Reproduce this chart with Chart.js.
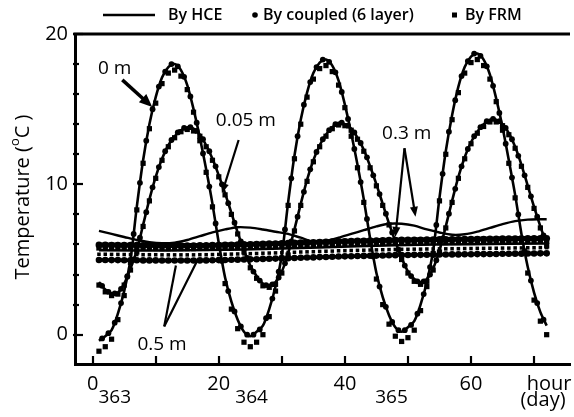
<!DOCTYPE html>
<html><head><meta charset="utf-8">
<script src="https://cdn.jsdelivr.net/npm/chart.js@4.4.0/dist/chart.umd.min.js"></script>
<style>html,body{margin:0;padding:0;background:#fff;}#wrap{width:574px;height:417px;}</style>
</head><body><div id="wrap"><canvas id="c" width="574" height="417" style="width:574px;height:417px"></canvas></div>
<script>
// ---------- data ----------
const hours = [1,2,3,4,5,6,7,8,9,10,11,12,13,14,15,16,17,18,19,20,21,22,23,24,25,26,27,28,29,30,31,32,33,34,35,36,37,38,39,40,41,42,43,44,45,46,47,48,49,50,51,52,53,54,55,56,57,58,59,60,61,62,63,64,65,66,67,68,69,70,71,72];
const halfHours = [1.5,2.5,3.5,4.5,5.5,6.5,7.5,8.5,9.5,10.5,11.5,12.5,13.5,14.5,15.5,16.5,17.5,18.5,19.5,20.5,21.5,22.5,23.5,24.5,25.5,26.5,27.5,28.5,29.5,30.5,31.5,32.5,33.5,34.5,35.5,36.5,37.5,38.5,39.5,40.5,41.5,42.5,43.5,44.5,45.5,46.5,47.5,48.5,49.5,50.5,51.5,52.5,53.5,54.5,55.5,56.5,57.5,58.5,59.5,60.5,61.5,62.5,63.5,64.5,65.5,66.5,67.5,68.5,69.5,70.5,71.5];
const waveHours = [1,3,5,7,9,11,13,15,17,19,21,23,25,27,29,31,33,35,37,39,41,43,45,47,49,51,53,55,57,59,61,63,65,67,69,71,72];
const deepHours = [1,12,24,36,48,60,72];

// 0 m
const surfHCE = [-0.4,-0.1,0.3,1.4,2.9,5.0,8.5,11.6,14.0,15.8,17.1,17.8,18.0,17.6,16.6,15.0,13.1,11.0,8.7,6.1,3.8,2.2,1.0,0.2,-0.1,0.2,0.6,1.7,3.2,5.3,8.8,11.9,14.3,16.1,17.4,18.1,18.3,17.9,16.9,15.3,13.4,11.3,9.0,6.4,4.1,2.5,1.3,0.5,0.2,0.5,0.9,2.0,3.5,5.6,9.1,12.2,14.6,16.5,17.8,18.5,18.7,18.3,17.3,15.7,13.8,11.6,9.3,6.7,4.5,2.8,1.5,0.6];
const surfCoupled = [-0.25,0.1,0.8,2.1,3.9,6.7,10.1,12.9,15.0,16.5,17.5,18.0,17.85,17.15,15.85,14.1,12.05,9.85,7.4,4.9,2.9,1.55,0.55,0.0,0.0,0.35,1.1,2.4,4.2,7.0,10.4,13.2,15.3,16.8,17.8,18.3,18.15,17.45,16.15,14.35,12.35,10.15,7.7,5.2,3.2,1.85,0.85,0.3,0.3,0.65,1.4,2.7,4.5,7.3,10.7,13.5,15.6,17.2,18.2,18.7,18.55,17.85,16.55,14.75,12.7,10.45,8.0,5.55,3.6,2.1,1.0];
const surfFRM = [-1.1,-0.8,-0.3,1.0,2.6,4.8,8.3,11.4,13.7,15.4,16.7,17.4,17.6,17.2,16.3,14.8,12.9,10.8,8.5,5.8,3.4,1.7,0.4,-0.5,-0.8,-0.5,0.0,1.2,2.9,5.1,8.6,11.7,14.0,15.8,17.0,17.7,17.9,17.5,16.6,15.1,13.2,11.1,8.8,6.1,3.7,2.0,0.7,-0.1,-0.45,-0.2,0.3,1.6,3.2,5.4,8.9,12.0,14.3,16.1,17.4,18.1,18.3,17.9,17.0,15.5,13.6,11.4,9.1,6.4,4.1,2.3,0.9,0.0];

// 0.05 m
const d05HCE = [3.5,3.0,2.75,2.8,3.4,4.4,5.6,7.3,9.0,10.5,11.7,12.6,13.2,13.6,13.8,13.7,13.3,12.6,11.7,10.6,9.4,8.1,6.8,5.6,4.6,3.9,3.4,3.3,3.5,4.2,5.4,7.0,8.7,10.3,11.6,12.6,13.3,13.8,14.1,14.0,13.7,13.1,12.3,11.2,10.0,8.7,7.4,6.2,5.1,4.2,3.7,3.5,3.7,4.4,5.6,7.2,8.9,10.5,11.8,12.8,13.5,14.0,14.3,14.3,14.0,13.4,12.5,11.3,9.9,8.5,7.2,6.0];
const d05Coupled = [3.25,2.85,2.75,3.05,3.85,5.0,6.45,8.15,9.8,11.15,12.2,12.95,13.45,13.75,13.8,13.55,13.0,12.2,11.2,10.0,8.75,7.45,6.2,5.1,4.2,3.6,3.3,3.35,3.8,4.75,6.2,7.85,9.5,11.0,12.15,13.0,13.6,14.0,14.1,13.9,13.45,12.75,11.8,10.6,9.35,8.05,6.8,5.65,4.6,3.9,3.55,3.55,4.0,4.95,6.4,8.05,9.7,11.2,12.35,13.2,13.8,14.2,14.35,14.2,13.75,13.0,11.9,10.6,9.2,7.85,6.6];
const d05FRM = [3.3,2.85,2.6,2.7,3.3,4.3,5.5,7.2,8.9,10.4,11.6,12.5,13.1,13.5,13.65,13.55,13.2,12.5,11.6,10.5,9.3,8.0,6.7,5.5,4.45,3.75,3.25,3.15,3.35,4.1,5.3,6.9,8.6,10.2,11.5,12.5,13.2,13.7,13.95,13.9,13.6,13.0,12.2,11.1,9.9,8.6,7.3,6.1,5.0,4.1,3.55,3.35,3.55,4.3,5.5,7.1,8.8,10.4,11.7,12.7,13.4,13.85,14.15,14.15,13.9,13.3,12.4,11.2,9.8,8.4,7.1,5.9];

// 0.3 m
const d30HCE = [6.9,6.7,6.5,6.3,6.15,6.08,6.12,6.3,6.55,6.8,7.0,7.15,7.12,7.0,6.85,6.7,6.45,6.2,6.25,6.45,6.7,6.95,7.2,7.38,7.38,7.25,7.0,6.8,6.65,6.68,6.85,7.1,7.35,7.55,7.65,7.68,7.68];
const d30Coupled = [5.97,5.97,5.96,5.96,5.95,5.95,5.95,5.94,5.94,5.94,5.93,5.93,5.93,5.93,5.93,5.93,5.94,5.94,5.95,5.96,5.97,5.98,5.99,6.00,6.01,6.02,6.04,6.05,6.06,6.08,6.09,6.10,6.12,6.13,6.14,6.16,6.17,6.18,6.20,6.21,6.22,6.23,6.24,6.25,6.26,6.27,6.28,6.29,6.30,6.30,6.31,6.31,6.32,6.32,6.33,6.33,6.34,6.34,6.35,6.35,6.36,6.36,6.37,6.37,6.38,6.38,6.39,6.39,6.40,6.40,6.41,6.41];
const d30FRM = [5.77,5.77,5.76,5.76,5.75,5.75,5.75,5.74,5.74,5.74,5.73,5.73,5.73,5.73,5.73,5.73,5.74,5.74,5.75,5.76,5.77,5.78,5.79,5.80,5.81,5.82,5.84,5.85,5.86,5.88,5.89,5.90,5.92,5.93,5.94,5.96,5.97,5.98,6.00,6.01,6.02,6.03,6.04,6.05,6.06,6.07,6.08,6.09,6.10,6.10,6.11,6.11,6.12,6.12,6.13,6.13,6.14,6.14,6.15,6.15,6.16,6.16,6.17,6.17,6.18,6.18,6.19,6.19,6.20,6.20,6.21,6.21];

// 0.5 m
const d50HCE = [5.62,5.60,5.67,5.80,5.95,6.02,6.07];
const d50Coupled = [4.97,4.97,4.96,4.96,4.95,4.95,4.95,4.94,4.94,4.94,4.93,4.93,4.93,4.93,4.93,4.93,4.94,4.94,4.95,4.96,4.97,4.98,4.99,5.00,5.01,5.02,5.04,5.05,5.06,5.08,5.09,5.10,5.12,5.13,5.14,5.16,5.17,5.18,5.20,5.21,5.22,5.23,5.24,5.25,5.26,5.27,5.28,5.29,5.30,5.30,5.31,5.31,5.32,5.32,5.33,5.33,5.34,5.34,5.35,5.35,5.36,5.36,5.37,5.37,5.38,5.38,5.39,5.39,5.40,5.40,5.41,5.41];
const d50FRM = [5.35,5.35,5.34,5.34,5.33,5.33,5.33,5.32,5.32,5.32,5.31,5.31,5.31,5.31,5.31,5.31,5.32,5.32,5.33,5.34,5.35,5.36,5.37,5.38,5.39,5.40,5.42,5.43,5.44,5.46,5.47,5.48,5.50,5.51,5.52,5.54,5.55,5.56,5.58,5.59,5.60,5.61,5.62,5.63,5.64,5.65,5.66,5.67,5.68,5.68,5.69,5.69,5.70,5.70,5.71,5.71,5.72,5.72,5.73,5.73,5.74,5.74,5.75,5.75,5.76,5.76,5.77,5.77,5.78,5.78,5.79,5.79];

// axes / labels
const xTickMarks = [0,10,20,30,40,50,60,70];
const xTickLabels = [0,20,40,60];
const yTickMarks = [0,2,4,6,8,10,12,14,16,18,20];
const yTickLabels = [0,10,20];
const dayLabels = ['363','364','365'];
const dayPos = [3.5,25.2,47.4];
const legendItems = ['By HCE','By coupled (6 layer)','By FRM'];
const depthLabels = ['0 m','0.05 m','0.3 m','0.5 m'];
const depthLabelPos = [[3.5,17.7],[24.3,14.25],[49.8,13.35],[11.0,-0.65]];
const arrows = [
  {from:[4.7,16.95], to:[9.45,15.15], w:3.5, head:true},
  {from:[23.15,12.95], to:[20.5,9.4], w:2.2, head:true},
  {from:[49.45,12.4], to:[51.2,7.85], w:2.2, head:true},
  {from:[49.45,12.4], to:[48.0,6.5], w:2.2, head:true},
  {from:[11.35,0.55], to:[13.2,4.6], w:2.2, head:false},
  {from:[11.35,0.55], to:[16.5,4.85], w:2.2, head:false}
];

// ---------- chart ----------
const F = "'Open Sans', 'DejaVu Sans', sans-serif";
const P = (xs, ys) => xs.map((x, i) => ({x: x, y: ys[i]}));
function lineDs(xs, ys, w) {
  return {data: P(xs, ys), borderColor:'#000', borderWidth: w, pointRadius: 0, tension: 0.3, fill: false, order: 3};
}
function dotDs(xs, ys, r, lw) {
  return {data: P(xs, ys), showLine: !!lw, borderColor:'#000', borderWidth: lw || 0, tension: 0.3,
    pointStyle:'circle', pointRadius: r, pointBackgroundColor:'#000', pointBorderColor:'#000', pointBorderWidth: 0, order: 1};
}
function sqDs(xs, ys, r) {
  return {data: P(xs, ys), showLine: false, pointStyle:'rect', pointRadius: r,
    pointBackgroundColor:'#000', pointBorderColor:'#000', pointBorderWidth: 0, order: 2};
}

const datasets = [
  lineDs(hours, surfHCE, 2.6),
  dotDs(halfHours, surfCoupled, 2.9),
  sqDs(hours, surfFRM, 3.7),
  lineDs(hours, d05HCE, 2.6),
  dotDs(halfHours, d05Coupled, 2.9),
  sqDs(hours, d05FRM, 3.7),
  lineDs(waveHours, d30HCE, 2.4),
  dotDs(hours, d30Coupled, 3.4, 5),
  sqDs(hours, d30FRM, 3.8),
  lineDs(deepHours, d50HCE, 2.5),
  dotDs(hours, d50Coupled, 3.3, 3.5),
  sqDs(hours, d50FRM, 2.5)
];

function arrowLine(ctx, x1, y1, x2, y2, w, head) {
  const ang = Math.atan2(y2 - y1, x2 - x1);
  const hl = w > 3 ? 13 : 10, hw = w > 3 ? 5.5 : 4;
  ctx.lineWidth = w;
  ctx.beginPath();
  ctx.moveTo(x1, y1);
  if (head) ctx.lineTo(x2 - Math.cos(ang) * hl * 0.8, y2 - Math.sin(ang) * hl * 0.8);
  else ctx.lineTo(x2, y2);
  ctx.stroke();
  if (head) {
    ctx.beginPath();
    ctx.moveTo(x2, y2);
    ctx.lineTo(x2 - Math.cos(ang) * hl - Math.sin(ang) * hw, y2 - Math.sin(ang) * hl + Math.cos(ang) * hw);
    ctx.lineTo(x2 - Math.cos(ang) * hl + Math.sin(ang) * hw, y2 - Math.sin(ang) * hl - Math.cos(ang) * hw);
    ctx.closePath();
    ctx.fill();
  }
}

const W = '500 ';
const deco = {
  id: 'deco',
  afterDraw(chart) {
    const ctx = chart.ctx, a = chart.chartArea, xs = chart.scales.x, ys = chart.scales.y;
    ctx.save();
    ctx.strokeStyle = '#000'; ctx.fillStyle = '#000'; ctx.lineCap = 'butt';
    // top frame line
    ctx.lineWidth = 3;
    ctx.beginPath(); ctx.moveTo(a.left - 1.5, a.top); ctx.lineTo(a.right, a.top); ctx.stroke();
    // inward ticks
    ctx.lineWidth = 2.2;
    xTickMarks.forEach(v => {
      const px = Math.round(xs.getPixelForValue(v));
      ctx.beginPath(); ctx.moveTo(px, a.bottom); ctx.lineTo(px, a.bottom - 8); ctx.stroke();
    });
    yTickMarks.forEach(v => {
      const py = Math.round(ys.getPixelForValue(v));
      const len = yTickLabels.includes(v) ? 8 : 4;
      ctx.beginPath(); ctx.moveTo(a.left - 2, py); ctx.lineTo(a.left + len, py); ctx.stroke();
    });
    // day labels
    ctx.textBaseline = 'middle'; ctx.textAlign = 'center';
    ctx.font = W + '19px ' + F;
    dayLabels.forEach((t, i) => ctx.fillText(t, xs.getPixelForValue(dayPos[i]), 398));
    ctx.font = W + '20px ' + F;
    ctx.fillText('hour', 549, 384);
    ctx.fillText('(day)', 543, 400);
    // y title
    ctx.save();
    ctx.translate(22, 197);
    ctx.rotate(-Math.PI / 2);
    ctx.textAlign = 'left'; ctx.textBaseline = 'alphabetic';
    const big = W + '20px ' + F, small = W + '13px ' + F;
    ctx.font = big; const w1 = ctx.measureText('Temperature (').width;
    ctx.font = small; const w2 = ctx.measureText('o').width;
    ctx.font = big; const w3 = ctx.measureText('C )').width;
    let sx = -(w1 + w2 + w3) / 2;
    ctx.font = big; ctx.fillText('Temperature (', sx, 7); sx += w1;
    ctx.font = small; ctx.fillText('o', sx, -3); sx += w2;
    ctx.font = big; ctx.fillText('C )', sx, 7);
    ctx.restore();
    // legend
    ctx.lineWidth = 2.5;
    ctx.beginPath(); ctx.moveTo(103, 15); ctx.lineTo(155, 15); ctx.stroke();
    ctx.beginPath(); ctx.arc(255, 15, 2.8, 0, Math.PI * 2); ctx.fill();
    ctx.fillRect(452, 12.5, 5, 5);
    ctx.font = '600 16px ' + F; ctx.textAlign = 'left'; ctx.textBaseline = 'middle';
    ctx.fillText(legendItems[0], 168, 15);
    ctx.fillText(legendItems[1], 263, 15);
    ctx.fillText(legendItems[2], 465, 15);
    // depth annotations
    ctx.font = W + '19px ' + F; ctx.textAlign = 'center'; ctx.textBaseline = 'middle';
    depthLabels.forEach((t, i) => ctx.fillText(t, xs.getPixelForValue(depthLabelPos[i][0]), ys.getPixelForValue(depthLabelPos[i][1])));
    arrows.forEach(ar => arrowLine(ctx,
      xs.getPixelForValue(ar.from[0]), ys.getPixelForValue(ar.from[1]),
      xs.getPixelForValue(ar.to[0]), ys.getPixelForValue(ar.to[1]), ar.w, ar.head));
    ctx.restore();
  }
};

new Chart(document.getElementById('c'), {
  type: 'line',
  data: {datasets: datasets},
  options: {
    responsive: false, animation: false, devicePixelRatio: 1, events: [],
    layout: {padding: {top: 34, right: 0, left: 0, bottom: 0}},
    plugins: {legend: {display: false}, tooltip: {enabled: false}},
    scales: {
      x: {
        type: 'linear', min: -2.8, max: 75.7,
        afterBuildTicks: s => { s.ticks = xTickLabels.map(v => ({value: v})); },
        afterFit: s => { s.height = 53; },
        ticks: {font: {family: F, size: 20, weight: '500'}, color: '#000', padding: 8, maxRotation: 0, autoSkip: false},
        grid: {display: false, drawTicks: false},
        border: {display: true, color: '#000', width: 3}
      },
      y: {
        type: 'linear', min: -1.95, max: 20,
        afterBuildTicks: s => { s.ticks = yTickLabels.map(v => ({value: v})); },
        afterFit: s => { s.width = 75; },
        ticks: {font: {family: F, size: 20, weight: '500'}, color: '#000', padding: 7, autoSkip: false},
        grid: {display: false, drawTicks: false},
        border: {display: true, color: '#000', width: 3}
      }
    }
  },
  plugins: [deco]
});
</script></body></html>
